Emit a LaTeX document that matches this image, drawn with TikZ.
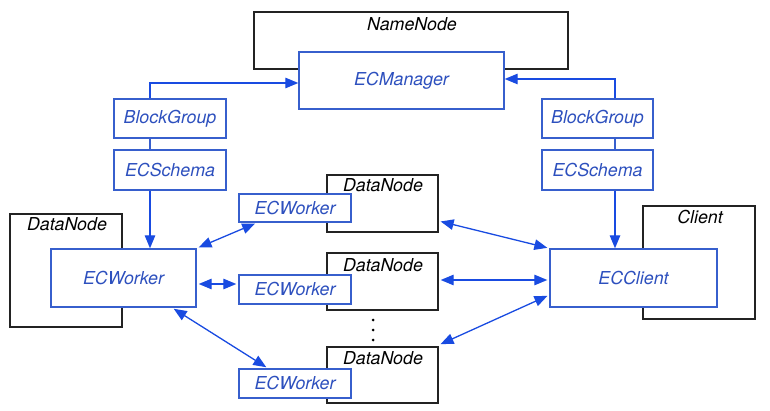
\documentclass[tikz,border=0pt]{standalone}
\usepackage{fontspec}
\setmainfont{TeX Gyre Heros}
\usetikzlibrary{arrows.meta,calc}
\definecolor{boxblue}{RGB}{55,95,205}
\definecolor{arrblue}{RGB}{25,75,225}
\definecolor{txtblue}{RGB}{45,80,190}
\definecolor{dark}{RGB}{35,35,35}
\begin{document}
\begin{tikzpicture}[x=1pt,y=-1pt,
  font=\fontsize{17.8}{20}\selectfont\itshape,
  outer/.style={draw=dark,line width=1.4pt,fill=white,rectangle,inner sep=0pt,anchor=center},
  inner/.style={draw=boxblue,line width=1.4pt,fill=white,rectangle,inner sep=0pt,anchor=center,text=txtblue},
  lbl/.style={text=black,inner sep=0pt,anchor=center},
  link/.style={draw=boxblue,line width=1.3pt},
  arr/.style={draw=arrblue,line width=1.3pt,-{Triangle[length=13pt,width=10.5pt]}},
  darr/.style={draw=arrblue,line width=1.3pt,{Triangle[length=13pt,width=10.5pt]}-{Triangle[length=13pt,width=10.5pt]},shorten <=2pt,shorten >=2pt}]
\useasboundingbox (0,0) rectangle (770,411);
% outer (black) boxes
\node[outer,minimum width=314pt,minimum height=57pt] (nn) at (411,40.5) {};
\node[lbl] (nnl) at (412,24) {NameNode};
\node[outer,minimum width=112pt,minimum height=113pt] (dnL) at (66,270.5) {};
\node[lbl] (dnLl) at (67,224) {DataNode};
\node[outer,minimum width=111pt,minimum height=57pt] (dn1) at (382.5,203.5) {};
\node[lbl] (dn1l) at (383,185) {DataNode};
\node[outer,minimum width=111pt,minimum height=57pt] (dn2) at (382.5,281.5) {};
\node[lbl] (dn2l) at (383,265) {DataNode};
\node[outer,minimum width=111pt,minimum height=56pt] (dn3) at (382.5,375) {};
\node[lbl] (dn3l) at (383,358) {DataNode};
\node[outer,minimum width=112pt,minimum height=113pt] (cl) at (699,262.5) {};
\node[lbl] (cll) at (700,217) {Client};
% blue boxes
\node[inner,minimum width=205pt,minimum height=57pt] (ecm) at (401.5,80.5) {ECManager};
\node[inner,minimum width=112pt,minimum height=39pt] (bgL) at (170,118.5) {BlockGroup};
\node[inner,minimum width=112pt,minimum height=40pt] (esL) at (170,170) {ECSchema};
\node[inner,minimum width=111pt,minimum height=39pt] (bgR) at (597.5,118.5) {BlockGroup};
\node[inner,minimum width=111pt,minimum height=40pt] (esR) at (597.5,170) {ECSchema};
\node[inner,minimum width=145pt,minimum height=58pt] (ecwL) at (123.5,278) {ECWorker};
\node[inner,minimum width=112pt,minimum height=28pt] (ecw1) at (295,208) {ECWorker};
\node[inner,minimum width=112pt,minimum height=29pt] (ecw2) at (295,289.5) {ECWorker};
\node[inner,minimum width=112pt,minimum height=29pt] (ecw3) at (295,383.5) {ECWorker};
\node[inner,minimum width=167pt,minimum height=58pt] (ecc) at (633.5,278) {ECClient};
% dots
\foreach \yy/\nm in {320/d1,330/d2,340/d3}
  \node[circle,fill=black,inner sep=0pt,minimum size=3pt] (\nm) at (373,\yy) {};
% helper coordinates
\coordinate (lx) at (150,83);
\coordinate (rx) at (615,79);
\coordinate (y1) at (0,284);
\coordinate (w1x) at (257,0);
\coordinate (sx) at (172,0);
\coordinate (w3x) at (268,0);
\coordinate (r1) at (0,221);
\coordinate (r2) at (0,280);
\coordinate (r3) at (0,345);
\coordinate (c3) at (0,295);
% NameNode links
\draw[arr] (bgL.north -| lx) -- (lx) -- (ecm.west |- lx);
\draw[arr] (bgR.north -| rx) -- (rx) -- (ecm.east |- rx);
\draw[link] (bgL.south -| lx) -- (esL.north -| lx);
\draw[link] (bgR.south -| rx) -- (esR.north -| rx);
\draw[arr] (esL.south -| lx) -- (ecwL.north -| lx);
\draw[arr] (esR.south -| rx) -- (ecc.north -| rx);
% worker links
\draw[darr] (ecwL.north east) -- (ecw1.south -| w1x);
\draw[darr] (ecwL.east |- y1) -- (ecw2.west |- y1);
\draw[darr] (ecwL.south -| sx) -- (ecw3.north -| w3x);
% client links
\draw[darr] (dn1.east |- r1) -- (ecc.north west);
\draw[darr] (dn2.east |- r2) -- (ecc.west |- r2);
\draw[darr] (dn3.east |- r3) -- (ecc.west |- c3);
\end{tikzpicture}
\end{document}
